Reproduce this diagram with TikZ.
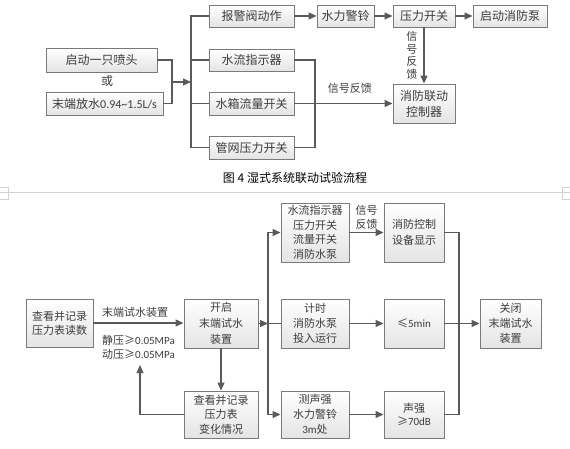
\documentclass[tikz,border=0pt]{standalone}
\usepackage{fontspec}
\setmainfont{Noto Sans CJK SC}
\newfontfamily\latin{Carlito}
\usetikzlibrary{positioning,arrows.meta,shadows,calc}
\definecolor{boxline}{HTML}{7A7A7A}
\definecolor{boxfill}{HTML}{E4E4E4}
\definecolor{wirecol}{HTML}{5A5A5A}
\definecolor{txt}{HTML}{3C3C3C}
\definecolor{rulecol}{HTML}{D2D2D2}

\begin{document}
\begin{tikzpicture}[
    x=1pt, y=-1pt,
    box/.style={draw=boxline, line width=0.9pt, top color=white, bottom color=boxfill,
      drop shadow={shadow xshift=1.2pt, shadow yshift=-1.2pt, opacity=0.3},
      inner sep=1pt, align=center, text=txt, font=\fontsize{12}{14}\selectfont},
    topbox/.style={box, minimum width=85pt, minimum height=22pt},
    lowbox/.style={box, minimum width=68pt, minimum height=49pt, font=\fontsize{11}{15}\selectfont},
    note/.style={text=txt, inner sep=0pt, align=center, font=\fontsize{11}{14}\selectfont},
    wire/.style={draw=wirecol, line width=1.2pt},
    flow/.style={wire, -{Triangle[length=8pt, width=7pt]}}
  ]
  \useasboundingbox (0,0) rectangle (570,449);

  % upper chart
  \node[topbox] (alarm) at (251.5,16) {报警阀动作};
  \node[topbox] (wflow) at (251.5,60) {水流指示器};
  \node[topbox, minimum height=23pt] (tank) at (251.5,103.5) {水箱流量开关};
  \node[topbox, minimum height=23pt] (pipe) at (251.5,147.5) {管网压力开关};
  \node[topbox, minimum width=111pt, minimum height=24pt] (head) at (101.5,60) {启动一只喷头};
  \node[note, font=\fontsize{12}{14}\selectfont] (orword) at (107,81) {或};
  \node[topbox, minimum width=117pt, minimum height=23pt] (drain) at (104.5,103.5) {末端放水{\latin 0.94\textasciitilde1.5L/s}};
  \node[topbox, minimum width=57pt] (bell) at (345.5,16) {水力警铃};
  \node[topbox, minimum width=62pt] (psw) at (424,16) {压力开关};
  \node[topbox, minimum width=74pt] (pump) at (510,16) {启动消防泵};
  \node[topbox, minimum width=62pt, minimum height=39pt, font=\fontsize{12}{16}\selectfont] (ctrl) at (424,103.5) {消防联动\\控制器};

  \coordinate (join) at (172,82);
  \coordinate (split) at (191,82);
  \coordinate (merge) at (315,103.5);

  \draw[wire] (head.east) -| (join) |- (drain.east);
  \draw[flow] (join) -- (split);
  \draw[wire] (alarm.west) -| (split) |- (pipe.west);
  \draw[wire] (split |- wflow) -- (wflow.west);
  \draw[wire] (split |- tank) -- (tank.west);
  \draw[flow] (alarm) -- (bell);
  \draw[flow] (bell) -- (psw);
  \draw[flow] (psw) -- (pump);
  \draw[flow] (psw) -- node[note, left=6pt, font=\fontsize{11}{12.5}\selectfont] {信\\号\\反\\馈} (ctrl);
  \draw[wire] (wflow.east) -| (merge) |- (pipe.east);
  \draw[flow] (tank) -- node[note, pos=0.565, above=9pt] {信号反馈} (ctrl);

  % caption and page rule
  \node[font=\fontsize{12}{14}\selectfont] (caption) at (295,178) {图 4 湿式系统联动试验流程};
  \draw[rulecol] (0,192) -- (570,192);
  \draw[rulecol] (0,187) -| (8,199) -- (0,199);
  \draw[rulecol] (570,187) -| (562,199) -- (570,199);

  % lower chart
  \node[lowbox, minimum width=67pt, minimum height=48pt, font=\fontsize{11}{14}\selectfont] (read) at (59.5,323) {查看并记录\\压力表读数};
  \node[lowbox, minimum width=74pt, font=\fontsize{11}{16}\selectfont] (open) at (221,323.5) {开启\\末端试水\\装置};
  \node[lowbox, minimum width=74pt, minimum height=47pt, font=\fontsize{11}{14.5}\selectfont] (check) at (221,414.5) {查看并记录\\压力表\\变化情况};
  \node[lowbox, minimum height=59pt, font=\fontsize{11}{14.5}\selectfont] (sensor) at (315,232.5) {水流指示器\\压力开关\\流量开关\\消防水泵};
  \node[lowbox, minimum width=60pt, minimum height=59pt, font=\fontsize{11}{16}\selectfont] (disp) at (414,232.5) {消防控制\\设备显示};
  \node[lowbox] (timer) at (315,323.5) {计时\\消防水泵\\投入运行};
  \node[lowbox, minimum width=60pt] (limit) at (414,323.5) {≤{\latin 5min}};
  \node[lowbox, minimum width=61pt] (shut) at (510.5,323.5) {关闭\\末端试水\\装置};
  \node[lowbox, minimum height=47pt] (sound) at (315,414.5) {测声强\\水力警铃\\{\latin 3m}处};
  \node[lowbox, minimum width=60pt, minimum height=47pt, font=\fontsize{11}{13}\selectfont] (level) at (414,414.5) {声强\\≥{\latin 70dB}};

  \node[note, anchor=west] (testlbl) at (102,312.7) {末端试水装置};
  \node[note, anchor=west] (static) at (102,340) {静压≥{\latin 0.05MPa}};
  \node[note, anchor=west] (dynamic) at (102,354.5) {动压≥{\latin 0.05MPa}};

  \coordinate (back) at (140,365);
  \coordinate (fork) at (268,323.5);
  \coordinate (gather) at (459,323.5);

  \draw[flow] (read.east) -- (read.east -| open.west);
  \draw[flow] (open) -- (check);
  \draw[flow] (check.west) -| (back);
  \draw[flow] (open.east) -- (fork);
  \draw[wire] (fork) -- (timer.west);
  \draw[flow] (fork) |- (sensor.west);
  \draw[flow] (fork) |- (sound.west);
  \draw[flow] (sensor) -- node[note, above=2pt] {信号\\反馈} (disp);
  \draw[flow] (timer) -- (limit);
  \draw[flow] (sound) -- (level);
  \draw[wire] (disp.east) -| (gather);
  \draw[wire] (level.east) -| (gather);
  \draw[flow] (limit) -- (shut);
\end{tikzpicture}
\end{document}
